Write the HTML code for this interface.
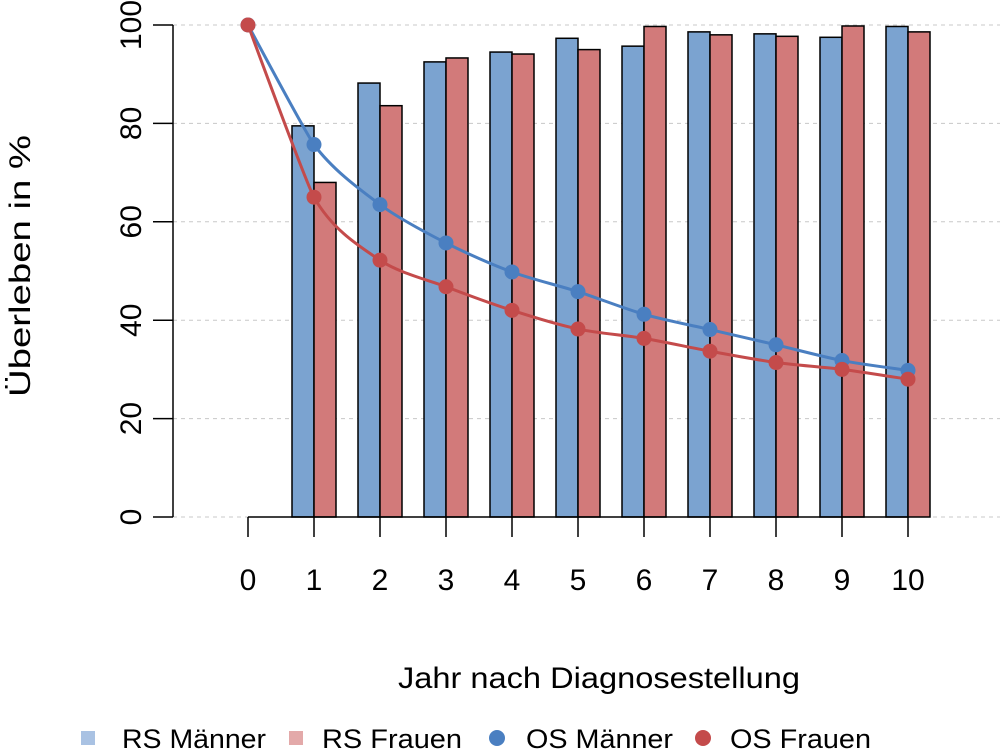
<!DOCTYPE html>
<html><head><meta charset="utf-8"><style>
html,body{margin:0;padding:0;background:#fff}
svg{display:block;font-family:"Liberation Sans",sans-serif}
</style></head><body>
<svg id="chart" width="1004" height="749" viewBox="0 0 1004 749"></svg>
<script>
const years=[0,1,2,3,4,5,6,7,8,9,10];
const rsYears=[1,2,3,4,5,6,7,8,9,10];
const rsMaenner=[79.5,88.2,92.5,94.5,97.3,95.7,98.6,98.2,97.5,99.7];
const rsFrauen=[68,83.6,93.3,94.1,95,99.7,98,97.7,99.8,98.6];
const osMaenner=[100,75.7,63.5,55.7,49.8,45.8,41.2,38.1,35,31.8,29.8];
const osFrauen=[100,65,52.2,46.8,42,38.2,36.3,33.7,31.4,30,28];
const yTicks=[0,20,40,60,80,100];
const xTickLabels=["0","1","2","3","4","5","6","7","8","9","10"];

const NS="http://www.w3.org/2000/svg";
const svg=document.getElementById('chart');
const X=v=>248+v*66;
const Y=v=>517-v*4.92;
function mk(tag,attrs,parent){const e=document.createElementNS(NS,tag);for(const k in attrs)e.setAttribute(k,attrs[k]);(parent||svg).appendChild(e);return e;}

yTicks.forEach(t=>{
  const g=mk('line',{x1:173,x2:1000,y1:Y(t),y2:Y(t),stroke:'#c8c8c8','stroke-dasharray':'4,4','stroke-width':1});
  
  
});
rsYears.forEach((yr,i)=>{
  const b=mk('rect',{x:X(yr)-22,y:Y(rsMaenner[i]),width:22,height:Y(0)-Y(rsMaenner[i]),fill:'#7ba3d0',stroke:'#000','stroke-width':1.5});
  
  
  const r=mk('rect',{x:X(yr),y:Y(rsFrauen[i]),width:22,height:Y(0)-Y(rsFrauen[i]),fill:'#d27a7a',stroke:'#000','stroke-width':1.5});
  
  
});
const ya=mk('line',{x1:173,x2:173,y1:Y(100),y2:Y(0),stroke:'#000','stroke-width':1.5});


yTicks.forEach(t=>{
  mk('line',{x1:153,x2:173,y1:Y(t),y2:Y(t),stroke:'#000','stroke-width':1.5});
  const tx=mk('text',{x:0,y:0,'font-size':30,'text-anchor':'middle',transform:`translate(141,${Y(t)}) rotate(-90)`});
  tx.textContent=t;
  
  
});
const xa=mk('line',{x1:X(0),x2:X(10),y1:Y(0),y2:Y(0),stroke:'#000','stroke-width':1.5});


years.forEach((yr,i)=>{
  mk('line',{x1:X(yr),x2:X(yr),y1:Y(0),y2:537,stroke:'#000','stroke-width':1.5});
  const tx=mk('text',{x:X(yr),y:590,'font-size':30,'text-anchor':'middle'});
  tx.textContent=xTickLabels[i];
  
  
});
function path(vals){
  const p=vals.map((v,i)=>[X(years[i]),Y(v)]);
  let d=`M${p[0][0]},${p[0][1]}`;
  for(let i=0;i<p.length-1;i++){
    const p0=p[Math.max(0,i-1)],p1=p[i],p2=p[i+1],p3=p[Math.min(p.length-1,i+2)];
    const k1=i===0?20:7, k2=i===0?16:7;
    const c1=[p1[0]+(p2[0]-p0[0])/k1,p1[1]+(p2[1]-p0[1])/k1];
    const c2=[p2[0]-(p3[0]-p1[0])/k2,p2[1]-(p3[1]-p1[1])/k2];
    d+=` C${c1[0]},${c1[1]} ${c2[0]},${c2[1]} ${p2[0]},${p2[1]}`;
  }
  return d;
}
[[osMaenner,'#4a7fc1','os-maenner'],[osFrauen,'#c44b4b','os-frauen']].forEach(([vals,col,nm])=>{
  const l=mk('path',{d:path(vals),fill:'none',stroke:col,'stroke-width':3});
  
  
});
[[osMaenner,'#4a7fc1','os-maenner'],[osFrauen,'#c44b4b','os-frauen']].forEach(([vals,col,nm])=>{
  vals.forEach((v,i)=>{
    const c=mk('circle',{cx:X(years[i]),cy:Y(v),r:7.5,fill:col});
    
    
  });
});
const xt=mk('text',{x:599,y:688,'font-size':30,'text-anchor':'middle',textLength:402,lengthAdjust:'spacingAndGlyphs'});
xt.textContent='Jahr nach Diagnosestellung';


const yt=mk('text',{x:0,y:0,'font-size':30,'text-anchor':'middle',textLength:262,lengthAdjust:'spacingAndGlyphs',transform:'translate(30,266) rotate(-90)'});
yt.textContent='Überleben in %';


const leg=[['rect','#a9c2e3','RS Männer',88,122,144],['rect','#e3a9a9','RS Frauen',296,322,140],['circle','#4a7fc1','OS Männer',497,526,147],['circle','#c44b4b','OS Frauen',703,730,141]];
leg.forEach(([sh,col,lab,mx,tx,w])=>{
  const g=mk('g',{});
  
  
  if(sh==='rect')mk('rect',{x:mx-7,y:731,width:14,height:14,fill:col},g);
  else mk('circle',{cx:mx,cy:738,r:8,fill:col},g);
  const t=mk('text',{x:tx,y:748,'font-size':27,textLength:w,lengthAdjust:'spacingAndGlyphs'},g);
  t.textContent=lab;
});
</script>
</body></html>
